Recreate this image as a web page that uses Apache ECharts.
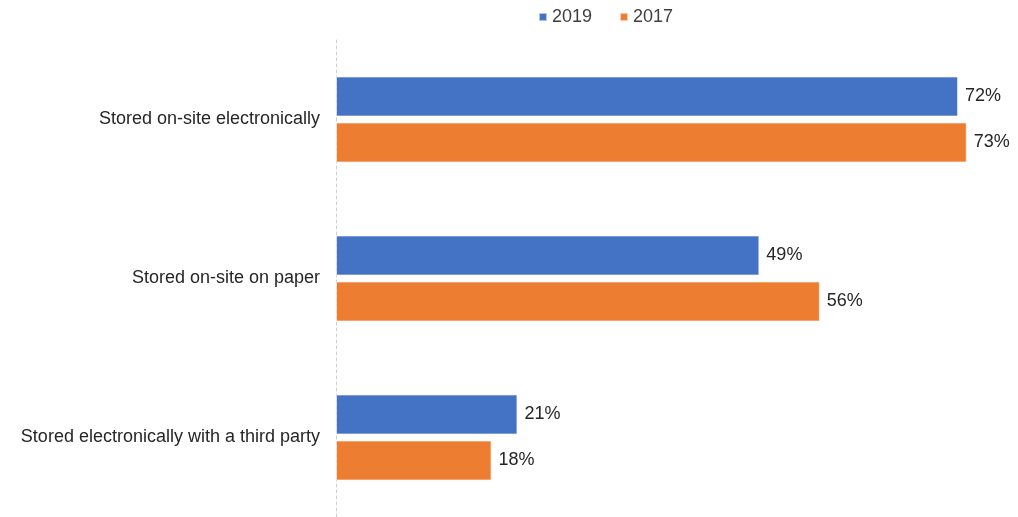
<!DOCTYPE html>
<html>
<head>
<meta charset="utf-8">
<style>
  html, body { margin: 0; padding: 0; background: #ffffff; }
  #chart { width: 1018px; height: 517px; }
</style>
<script src="https://cdn.jsdelivr.net/npm/echarts@6/dist/echarts.min.js"></script>
</head>
<body>
<div id="chart"></div>
<script>
// Where records are stored, share of respondents by survey year
const categories = [
  'Stored on-site electronically',
  'Stored on-site on paper',
  'Stored electronically with a third party'
];
const values2019 = [72, 49, 21];
const values2017 = [73, 56, 18];
const seriesNames = ['2019', '2017'];
const seriesColors = ['#4472C4', '#ED7D31'];

const fontFamily = 'Liberation Sans, Arial, sans-serif';

function barSeries(name, data, color) {
  return {
    name: name,
    type: 'bar',
    data: data,
    barWidth: 40,
    barGap: '15%',
    itemStyle: { color: color, borderColor: 'rgba(255,255,255,0.6)', borderWidth: 1 },
    label: {
      show: true,
      position: 'right',
      distance: 7,
      formatter: '{c}%',
      color: '#262626',
      fontSize: 18,
      fontFamily: fontFamily
    }
  };
}

const chart = echarts.init(document.getElementById('chart'), null, { renderer: 'canvas' });
chart.setOption({
  animation: false,
  backgroundColor: '#ffffff',
  legend: {
    data: seriesNames,
    left: 533,
    top: 3,
    itemWidth: 8,
    itemHeight: 8,
    itemGap: 27,
    icon: 'rect',
    textStyle: { color: '#404040', fontSize: 18, fontFamily: fontFamily }
  },
  grid: { left: 336, right: 34, top: 40, bottom: -3, containLabel: false },
  xAxis: {
    type: 'value',
    min: 0,
    max: 75,
    show: false
  },
  yAxis: {
    type: 'category',
    data: categories,
    inverse: true,
    axisLine: { show: true, lineStyle: { color: '#d0d0d0', type: [3, 3], width: 1 } },
    axisTick: { show: false },
    axisLabel: {
      margin: 16,
      color: '#262626',
      fontSize: 18,
      fontFamily: fontFamily
    }
  },
  series: [
    barSeries(seriesNames[0], values2019, seriesColors[0]),
    barSeries(seriesNames[1], values2017, seriesColors[1])
  ]
});
</script>
</body>
</html>
